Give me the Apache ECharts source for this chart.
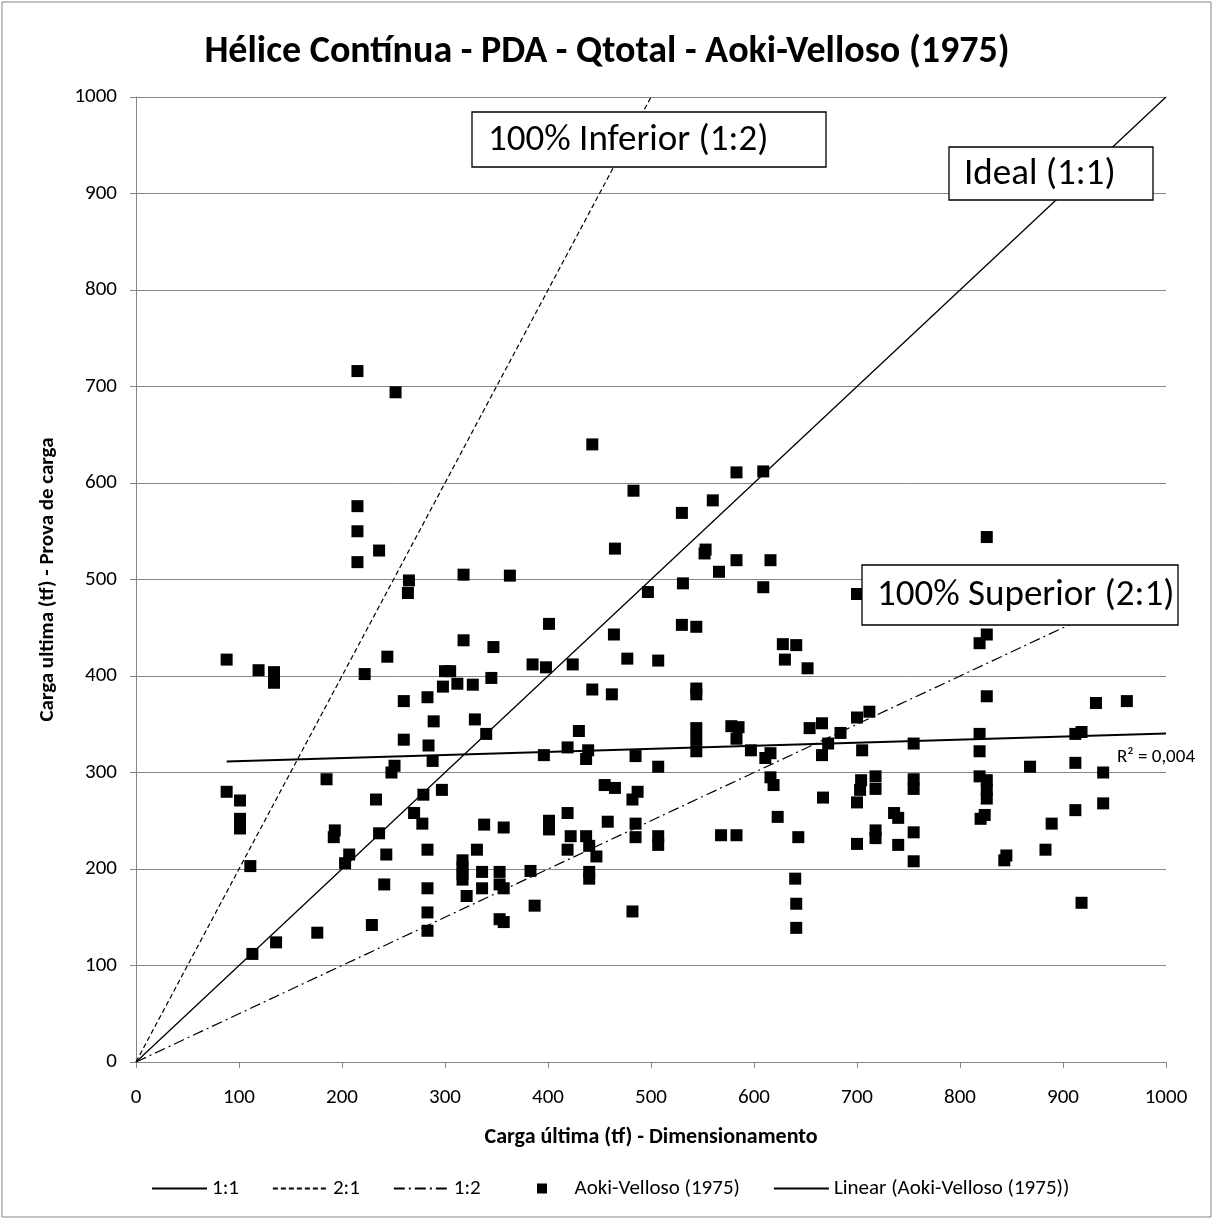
<!DOCTYPE html>
<html><head><meta charset="utf-8">
<script src="https://cdn.jsdelivr.net/npm/echarts@6/dist/echarts.min.js"></script>
<style>html,body{margin:0;padding:0;background:#fff}#c{width:1214px;height:1220px}</style>
</head><body><div id="c"></div>
<script>
const title = 'Hélice Contínua - PDA - Qtotal - Aoki-Velloso (1975)';
const xName = 'Carga última (tf) - Dimensionamento';
const yName = 'Carga ultima (tf) - Prova de carga';
const xTicks = [0,100,200,300,400,500,600,700,800,900,1000];
const yTicks = [0,100,200,300,400,500,600,700,800,900,1000];

const dimX = [88,88,101,101,101,111,113,119,134,134,136,176,185,193,192,203,207,215,215,215,215,222,229,233,236,236,241,243,244,248,251,252,260,260,264,265,270,278,279,283,284,283,283,283,283,288,289,297,298,300,305,312,317,317,317,317,318,318,321,327,329,331,336,336,338,340,345,347,353,353,353,357,357,357,363,383,385,387,396,398,401,401,401,419,419,419,422,424,430,437,437,439,440,440,440,443,443,447,455,458,462,464,465,465,477,482,482,483,485,487,485,485,497,507,507,507,507,530,531,530,544,544,544,544,544,544,553,552,560,566,568,578,585,583,583,583,583,597,609,609,611,616,616,616,619,623,628,641,630,640,641,641,643,652,654,666,666,667,672,684,700,700,700,700,704,703,705,712,718,718,718,718,736,740,740,755,755,755,755,755,819,826,826,826,819,819,819,826,826,826,824,820,843,845,868,883,889,912,918,912,912,918,932,939,939,962];
const provaY = [417,280,271,252,242,203,112,406,404,393,124,134,293,240,233,206,215,716,576,550,518,402,142,272,530,237,184,215,420,300,307,694,374,334,486,499,258,247,277,378,328,220,180,155,136,312,353,282,389,405,405,392,209,202,195,189,505,437,172,391,355,220,197,180,246,340,398,430,197,184,148,180,145,243,504,198,412,162,318,409,454,250,241,326,258,220,234,412,343,314,234,323,224,197,190,640,386,213,287,249,381,443,532,284,418,272,156,592,317,280,247,233,487,416,306,234,225,569,496,453,451,387,381,346,334,322,531,527,582,508,235,348,347,335,611,520,235,323,612,492,315,320,520,295,287,254,433,432,417,190,164,139,233,408,346,351,318,274,330,341,357,485,269,226,292,282,323,363,296,283,240,232,258,253,225,330,293,283,238,208,434,443,544,379,340,322,296,292,282,273,256,252,209,214,306,220,247,340,342,310,261,165,372,300,268,374];

const line11X = [0,1000], line11Y = [0,1000];
const line21X = [0,500],  line21Y = [0,1000];
const line12X = [0,1000], line12Y = [0,500];
const trendX = [88,1000], trendY = [311.5,340.5];
const r2Text = 'R² = 0,004';

const FONT = 'Carlito, Calibri, Lato, sans-serif';
const zip = (a,b)=>a.map((v,i)=>[v,b[i]]);
const chart = echarts.init(document.getElementById('c'), null, {renderer:'canvas'});
const axisGray = '#868686';
const noDot = {itemStyle:{opacity:0}};
const legendBase = {bottom:16,itemWidth:55,itemHeight:10,itemGap:33,
  textStyle:{fontFamily:FONT,fontSize:21,color:'#000'}};

const option = {
  animation:false,
  backgroundColor:'#fff',
  title:{text:title,left:'center',top:28,textStyle:{fontFamily:FONT,fontSize:38,fontWeight:'bold',color:'#000'}},
  grid:{left:136,right:48,top:97,bottom:158,containLabel:false},
  xAxis:{type:'value',min:0,max:1000,interval:100,
    name:xName,nameLocation:'middle',nameGap:64,
    nameTextStyle:{fontFamily:FONT,fontSize:22,fontWeight:'bold',color:'#000'},
    axisLine:{lineStyle:{color:axisGray,width:1}},
    axisTick:{show:true,length:6,lineStyle:{color:axisGray}},
    axisLabel:{fontFamily:FONT,fontSize:21,color:'#000',margin:25,formatter:v=>String(v)},
    splitLine:{show:false}},
  yAxis:{type:'value',min:0,max:1000,interval:100,
    name:yName,nameLocation:'middle',nameGap:78,
    nameTextStyle:{fontFamily:FONT,fontSize:21,fontWeight:'bold',color:'#000'},
    axisLine:{show:true,lineStyle:{color:axisGray,width:1}},
    axisTick:{show:true,length:6,lineStyle:{color:axisGray}},
    axisLabel:{fontFamily:FONT,fontSize:21,color:'#000',margin:19,formatter:v=>String(v)},
    splitLine:{show:true,lineStyle:{color:axisGray,width:1}}},
  legend:[
    Object.assign({left:146,data:[
      Object.assign({name:'1:1'},noDot),
      Object.assign({name:'2:1'},noDot),
      Object.assign({name:'1:2'},noDot)]},legendBase),
    Object.assign({left:532,data:[
      {name:'Aoki-Velloso (1975)',icon:'path://M0,0h10v10h-10z',itemStyle:{color:'#000',opacity:1}},
      Object.assign({name:'Linear (Aoki-Velloso (1975))'},noDot)]},legendBase)
  ],
  series:[
    {name:'1:1',type:'line',data:zip(line11X,line11Y),symbol:'none',itemStyle:{color:'#000'},lineStyle:{color:'#000',width:1.3},z:2},
    {name:'2:1',type:'line',data:zip(line21X,line21Y),symbol:'none',itemStyle:{color:'#000'},lineStyle:{color:'#000',width:1.2,type:[5,3]},z:2},
    {name:'1:2',type:'line',data:zip(line12X,line12Y),symbol:'none',itemStyle:{color:'#000'},lineStyle:{color:'#000',width:1.2,type:[11,4,2,4]},z:2},
    {name:'Aoki-Velloso (1975)',type:'scatter',data:zip(dimX,provaY),symbol:'rect',symbolSize:12,itemStyle:{color:'#000',opacity:1},z:3},
    {name:'Linear (Aoki-Velloso (1975))',type:'line',data:zip(trendX,trendY),symbol:'none',itemStyle:{color:'#000'},lineStyle:{color:'#000',width:2},z:4}
  ],
  graphic:[
    {type:'rect',shape:{x:2,y:2,width:1209,height:1215},style:{fill:'none',stroke:axisGray,lineWidth:1},silent:true,z:0},
    {type:'rect',shape:{x:472,y:112,width:354,height:55},style:{fill:'#fff',stroke:'#000',lineWidth:1.3},z:10},
    {type:'text',x:488,y:141,style:{text:'100% Inferior (1:2)',font:'37px '+FONT,fill:'#000',textVerticalAlign:'middle'},z:11},
    {type:'rect',shape:{x:949,y:147,width:204,height:53},style:{fill:'#fff',stroke:'#000',lineWidth:1.3},z:10},
    {type:'text',x:964,y:175,style:{text:'Ideal (1:1)',font:'37px '+FONT,fill:'#000',textVerticalAlign:'middle'},z:11},
    {type:'rect',shape:{x:862,y:565,width:316,height:60},style:{fill:'#fff',stroke:'#000',lineWidth:1.3},z:10},
    {type:'text',x:877,y:596,style:{text:'100% Superior (2:1)',font:'37px '+FONT,fill:'#000',textVerticalAlign:'middle'},z:11},
    {type:'text',x:1117,y:757,style:{text:r2Text,font:'19px '+FONT,fill:'#000',textVerticalAlign:'middle'},z:11}
  ]
};
chart.setOption(option);
</script></body></html>
